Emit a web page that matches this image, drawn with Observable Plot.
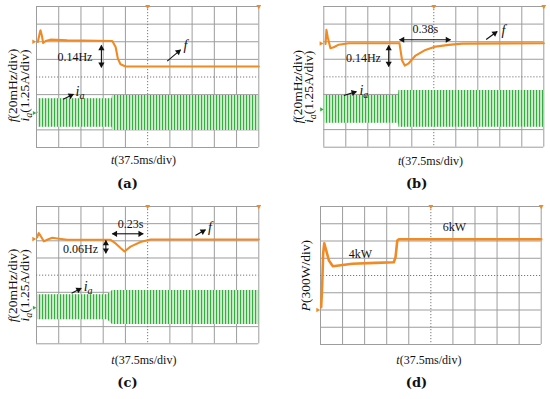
<!DOCTYPE html>
<html><head><meta charset="utf-8">
<script src="https://cdn.jsdelivr.net/npm/d3@7"></script>
<script src="https://cdn.jsdelivr.net/npm/@observablehq/plot@0.6"></script>
<style>
html,body{margin:0;padding:0;background:#fff;}
#fig{position:relative;width:550px;height:399px;overflow:hidden;background:#fff;}
.panel{position:absolute;}
</style></head><body>
<svg width="0" height="0" style="position:absolute"><defs>
<pattern id="iaStripes" patternUnits="userSpaceOnUse" width="3.0" height="6"><rect x="0" y="0" width="1.1" height="6" fill="#34ad41"/></pattern>
</defs></svg>
<div id="fig"></div>
<script>
// ---- oscilloscope grid (divisions) ----
const gridX = [0,1,2,3,4,6,7,8,9,10];
const gridY = [0,1,2,3,5,6,7,8];
const centerX = [5];
const centerY = [4];
const markerX = [5,10];

// ---- (a) frequency f and current ia, in screen divisions ----
const aFreqT = [0.06,0.14,0.18,0.24,0.30,0.41,0.63,1.38,3.41,3.56,3.66,3.78,4.01,10];
const aFreqV = [5.99,6.46,6.65,6.36,5.93,6.04,6.12,6.08,6.04,5.70,5.04,4.72,4.60,4.60];
const aCurT  = [0.08,3.40,3.42,10];
const aCurHi = [2.76,2.76,2.95,2.95];
const aCurLo = [1.15,1.15,0.96,0.96];

// ---- (b) ----
const bFreqT = [0.08,0.12,0.18,0.30,0.45,0.68,1.14,3.44,3.49,3.56,3.68,3.86,4.17,4.62,5.08,5.68,6.29,10];
const bFreqV = [5.87,6.67,6.25,5.63,5.68,5.83,5.91,5.91,5.49,4.93,4.64,4.77,5.21,5.53,5.72,5.82,5.89,5.91];
const bCurT  = [0.03,3.40,3.42,10];
const bCurHi = [2.94,2.94,3.22,3.22];
const bCurLo = [1.36,1.36,1.14,1.14];

// ---- (c) ----
const cFreqT = [0.03,0.10,0.18,0.33,0.48,0.71,0.93,1.38,3.33,3.56,3.78,3.96,4.23,4.68,5.13,10];
const cFreqV = [6.20,6.45,6.30,5.97,6.06,6.18,6.14,6.06,6.06,5.85,5.58,5.38,5.66,5.93,6.08,6.08];
const cCurT  = [0.05,3.20,3.42,10];
const cCurHi = [2.86,2.86,3.11,3.11];
const cCurLo = [1.40,1.40,1.12,1.12];

// ---- (d) power P ----
const dPowT = [0.03,0.08,0.12,0.17,0.26,0.38,0.56,0.83,1.44,2.49,3.32,3.40,3.48,3.55,10];
const dPowV = [2.16,3.52,5.26,5.87,5.45,4.87,4.54,4.58,4.68,4.73,4.77,5.06,6.03,6.10,6.10];

// ---- channel reference levels (left-edge markers) ----
const chOrangeLevel = [6.0, 5.9, 6.1, 2.0];
const chGreenLevel  = [1.96, 2.15, 2.1, null];

// ---- texts ----
const labelF = "f(20mHz/div)";
const labelI = "ia(1.25A/div)";
const labelT = "t(37.5ms/div)";
const labelP = "P(300W/div)";
const panelTags = ["(a)","(b)","(c)","(d)"];
const aNotes = ["0.14Hz","f","ia"];
const bNotes = ["0.38s","0.14Hz","f","ia"];
const cNotes = ["0.23s","0.06Hz","f","ia"];
const dNotes = ["4kW","6kW"];

const ORANGE = "#f08a24";
const GREEN = "#34ad41";
const GRID = "#9d9d9d";

const toRows = (T, V) => T.map((t, i) => ({t, v: V[i]}));
const toBand = (T, H, L) => T.map((t, i) => ({t, hi: H[i], lo: L[i]}));

const panels = [
  {tag: panelTags[0], left: 0, top: 0, w: 275, h: 200, m: [6, 16.7, 53, 36],
   trace: toRows(aFreqT, aFreqV), band: toBand(aCurT, aCurHi, aCurLo),
   yLabels: [{text: labelF, x: -1.07, y: 3.52}, {text: labelI, x: -0.54, y: 3.52}],
   xLabel: {x: 4.81, y: -0.74}, tagPos: {x: 4.09, y: -2.04},
   notes: [{text: aNotes[0], x: 1.73, y: 5.12, s: 12}, {text: aNotes[1], x: 6.70, y: 5.79, s: 14}],
   subs: [{text: aNotes[2], x: 1.76, y: 3.17}],
   arrows: [{x1: 2.92, y1: 5.79, x2: 2.92, y2: 4.55, both: true},
            {x1: 5.88, y1: 4.90, x2: 6.48, y2: 5.54},
            {x1: 1.20, y1: 2.74, x2: 1.66, y2: 3.02}]},
  {tag: panelTags[1], left: 275, top: 0, w: 275, h: 200, m: [6, 6.7, 53.3, 48.3],
   trace: toRows(bFreqT, bFreqV), band: toBand(bCurT, bCurHi, bCurLo),
   yLabels: [{text: labelF, x: -1.21, y: 3.43}, {text: labelI, x: -0.68, y: 3.43}],
   xLabel: {x: 4.85, y: -0.81}, tagPos: {x: 4.22, y: -2.06},
   notes: [{text: bNotes[0], x: 4.62, y: 6.73, s: 12}, {text: bNotes[1], x: 1.80, y: 5.08, s: 12},
           {text: bNotes[2], x: 8.17, y: 6.63, s: 14}],
   subs: [{text: bNotes[3], x: 1.62, y: 3.24}],
   arrows: [{x1: 3.44, y1: 6.11, x2: 5.76, y2: 6.11, both: true},
            {x1: 2.95, y1: 5.78, x2: 2.95, y2: 4.59, both: true},
            {x1: 7.38, y1: 6.12, x2: 7.88, y2: 6.58},
            {x1: 0.91, y1: 2.94, x2: 1.48, y2: 3.16}]},
  {tag: panelTags[2], left: 0, top: 200, w: 275, h: 199, m: [6, 16.7, 55.7, 36],
   trace: toRows(cFreqT, cFreqV), band: toBand(cCurT, cCurHi, cCurLo),
   yLabels: [{text: labelF, x: -1.07, y: 3.40}, {text: labelI, x: -0.54, y: 3.40}],
   xLabel: {x: 4.83, y: -0.93}, tagPos: {x: 4.09, y: -2.27},
   notes: [{text: cNotes[0], x: 4.23, y: 6.99, s: 12}, {text: cNotes[1], x: 1.98, y: 5.50, s: 12},
           {text: cNotes[2], x: 7.80, y: 6.76, s: 14}],
   subs: [{text: cNotes[3], x: 2.12, y: 3.32}],
   arrows: [{x1: 3.41, y1: 6.41, x2: 4.80, y2: 6.41, both: true},
            {x1: 3.12, y1: 6.02, x2: 3.12, y2: 5.28, both: true},
            {x1: 7.15, y1: 6.31, x2: 7.60, y2: 6.64},
            {x1: 1.58, y1: 2.95, x2: 2.01, y2: 3.24}]},
  {tag: panelTags[3], left: 275, top: 200, w: 275, h: 199, m: [6, 9.3, 55, 45],
   trace: toRows(dPowT, dPowV), band: null, thick: true,
   yLabels: [{text: labelP, x: -0.68, y: 4.0}],
   xLabel: {x: 4.91, y: -0.89}, tagPos: {x: 4.35, y: -2.24},
   notes: [{text: dNotes[0], x: 1.81, y: 5.26, s: 12}, {text: dNotes[1], x: 6.07, y: 6.80, s: 12}],
   subs: [],
   arrows: []}
];

function arrowMarks(arrows, ppx, ppy) {
  const heads = [];
  const back = 3.0;
  const addHead = (xs, ys, xe, ye) => {
    const sx = (xe - xs) * ppx, sy = -(ye - ys) * ppy;
    const len = Math.hypot(sx, sy);
    const ux = sx / len, uy = sy / len;
    heads.push({x: xe - ux * back / ppx, y: ye + uy * back / ppy, angle: Math.atan2(ux, -uy) * 180 / Math.PI});
  };
  for (const a of arrows) {
    addHead(a.x1, a.y1, a.x2, a.y2);
    if (a.both) addHead(a.x2, a.y2, a.x1, a.y1);
  }
  return [
    Plot.link(arrows, {x1: "x1", y1: "y1", x2: "x2", y2: "y2", stroke: "#111", strokeWidth: 1.1}),
    Plot.dot(heads, {x: "x", y: "y", rotate: "angle", symbol: "triangle", r: 2.3, fill: "#111", stroke: "none"})
  ];
}

function rich(s) {
  const it = x => `<tspan font-style="italic">${x}</tspan>`;
  if (s === "ia") return it("i") + `<tspan font-style="italic" font-size="10" dy="3">a</tspan>`;
  if (s.startsWith("ia(")) return it("i") + `<tspan font-style="italic" font-size="10" dy="3">a</tspan><tspan dy="-3">${s.slice(2)}</tspan>`;
  if (s === "f") return it("f");
  if (/^[ftP]\(/.test(s)) return it(s[0]) + s.slice(1);
  return null;
}

const SERIF = '"Liberation Serif", "Times New Roman", serif';
const fig = document.getElementById("fig");
panels.forEach((p, k) => {
  const [mt, mr, mb, ml] = p.m;
  const ppx = (p.w - ml - mr) / 10, ppy = (p.h - mt - mb) / 8;
  const marks = [
    Plot.ruleX(gridX, {stroke: GRID, strokeWidth: 1}),
    Plot.ruleY(gridY, {stroke: GRID, strokeWidth: 1}),
    Plot.ruleX(centerX, {stroke: "#777", strokeWidth: 1, strokeDasharray: "1.2,1.8"}),
    Plot.ruleY(centerY, {stroke: "#777", strokeWidth: 1, strokeDasharray: "1.2,1.8"}),
    Plot.dot(markerX, {x: d => d, y: 8, symbol: "triangle", rotate: 180, r: 1.8, fill: ORANGE, stroke: "none"}),
    Plot.dot([chOrangeLevel[k]], {x: -0.13, y: d => d, symbol: "triangle", rotate: 90, r: 1.7, fill: ORANGE, stroke: "none"})
  ];
  if (chGreenLevel[k] != null) {
    marks.push(Plot.dot([chGreenLevel[k]], {x: -0.11, y: d => d, symbol: "triangle", rotate: 90, r: 1.5, fill: GREEN, stroke: "none"}));
  }
  if (p.band) {
    marks.push(Plot.areaY(p.band, {x: "t", y1: "lo", y2: "hi", fill: "#cfecce"}));
    marks.push(Plot.areaY(p.band, {x: "t", y1: "lo", y2: "hi", fill: "url(#iaStripes)"}));
  }
  marks.push(Plot.line(p.trace, {x: "t", y: "v", stroke: ORANGE, strokeWidth: p.thick ? 2.6 : 2.1, strokeLinejoin: "round"}));
  marks.push(...arrowMarks(p.arrows, ppx, ppy));
  marks.push(Plot.text(p.notes, {x: "x", y: "y", text: "text", fontSize: "s", fill: "#111"}));
  marks.push(Plot.text(p.subs, {x: "x", y: "y", text: "text", fontSize: 14, textAnchor: "start", fill: "#111"}));
  marks.push(Plot.text(p.yLabels, {x: "x", y: "y", text: "text", rotate: -90, fontSize: 13.5, fill: "#111"}));
  marks.push(Plot.text([labelT], {x: p.xLabel.x, y: p.xLabel.y, text: d => d, fontSize: 12, fill: "#111"}));
  marks.push(Plot.text([p.tag], {x: p.tagPos.x, y: p.tagPos.y, text: d => d, fontSize: 13, fontWeight: "bold", fill: "#111"}));

  const chart = Plot.plot({
    width: p.w, height: p.h,
    marginTop: mt, marginRight: mr, marginBottom: mb, marginLeft: ml,
    x: {domain: [0, 10], axis: null},
    y: {domain: [0, 8], axis: null},
    style: {background: "transparent", overflow: "visible"},
    marks
  });
  chart.querySelectorAll("text").forEach(t => {
    const isTag = panelTags.includes(t.textContent);
    t.style.fontFamily = isTag ? '"DejaVu Serif", serif' : SERIF;
    const h = rich(t.textContent);
    if (h) t.innerHTML = h;
  });
  const holder = document.createElement("div");
  holder.className = "panel";
  holder.style.left = p.left + "px";
  holder.style.top = p.top + "px";
  holder.appendChild(chart);
  fig.appendChild(holder);
});
</script>
</body></html>
